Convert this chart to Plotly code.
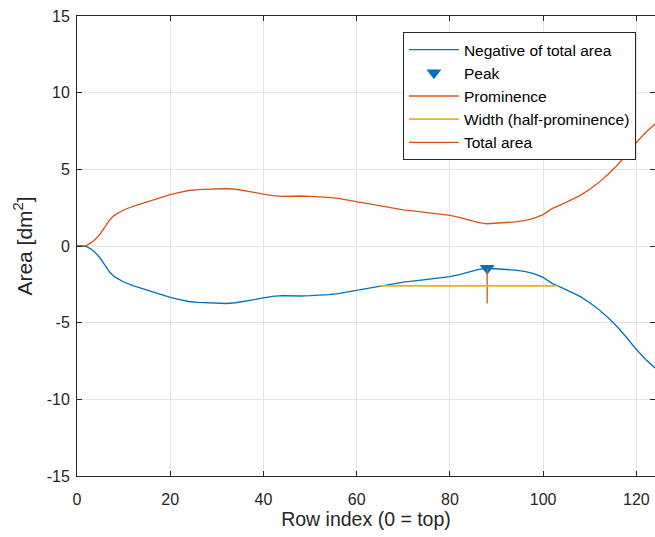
import numpy as np
import plotly.graph_objects as go

# Row index (0 = top) and total area [dm^2]
rows = [0, 1, 2, 3, 4, 5, 6, 7, 8, 9, 10, 12, 14, 16, 18, 20, 22, 24, 26, 28, 30,
        32, 34, 36, 38, 40, 42, 44, 46, 48, 50, 52, 54, 56, 58, 60, 62, 64, 66,
        68, 70, 72, 74, 76, 78, 80, 82, 84, 86, 88, 90, 92, 94, 96, 98, 100, 102,
        104, 106, 108, 110, 112, 114, 116, 118, 120, 122, 124]
total_area = [0.0, 0.0, 0.03, 0.2, 0.45, 0.8, 1.25, 1.7, 2.0, 2.2, 2.35, 2.58,
              2.78, 2.97, 3.17, 3.35, 3.5, 3.62, 3.68, 3.71, 3.73, 3.75, 3.7,
              3.62, 3.5, 3.38, 3.28, 3.23, 3.26, 3.26, 3.24, 3.21, 3.17, 3.1,
              2.99, 2.89, 2.78, 2.66, 2.55, 2.45, 2.36, 2.29, 2.22, 2.14, 2.07,
              2.0, 1.87, 1.7, 1.54, 1.45, 1.48, 1.52, 1.57, 1.65, 1.8, 2.05,
              2.45, 2.72, 3.0, 3.3, 3.7, 4.15, 4.7, 5.3, 6.0, 6.75, 7.4, 7.95]

x_ticks = [0, 20, 40, 60, 80, 100, 120]
y_ticks = [-15, -10, -5, 0, 5, 10, 15]

BLUE = "#0072BD"
ORANGE = "#D95319"
YELLOW = "#EDB120"
DARK = "#262626"
FONT = "Liberation Sans, Arial, sans-serif"

x = np.array(rows, dtype=float)
tot = np.array(total_area, dtype=float)
neg = -tot

# --- findpeaks-like: most prominent local maximum of the negative area ---
best = None
for i in range(1, len(neg) - 1):
    if neg[i] > neg[i - 1] and neg[i] >= neg[i + 1]:
        j = i
        while j > 0 and neg[j - 1] <= neg[i]:
            j -= 1
        lmin = neg[j:i + 1].min()
        k = i
        while k < len(neg) - 1 and neg[k + 1] <= neg[i]:
            k += 1
        rmin = neg[i:k + 1].min()
        ref = max(lmin, rmin)
        prom = neg[i] - ref
        if best is None or prom > best[1]:
            best = (i, prom)
pi, prom = best
px, py = x[pi], neg[pi]
half = py - prom / 2.0


def crossing(idx_from, step):
    i = idx_from
    while 0 <= i + step < len(neg):
        a, b = neg[i], neg[i + step]
        if (a - half) * (b - half) <= 0:
            t = (half - a) / (b - a)
            return x[i] + t * (x[i + step] - x[i])
        i += step
    return x[i]


wl = crossing(pi, -1)
wr = crossing(pi, 1)

fig = go.Figure()
fig.add_trace(go.Scatter(x=x, y=neg, mode="lines", name="Negative of total area",
                         line=dict(color=BLUE, width=1.3)))
fig.add_trace(go.Scatter(x=[px], y=[py], mode="markers", name="Peak",
                         marker=dict(symbol="triangle-down", size=13, color=BLUE,
                                     line=dict(width=0))))
fig.add_trace(go.Scatter(x=[px, px], y=[py, py - prom], mode="lines", name="Prominence",
                         line=dict(color=ORANGE, width=1.3)))
fig.add_trace(go.Scatter(x=[wl, wr], y=[half, half], mode="lines",
                         name="Width (half-prominence)",
                         line=dict(color=YELLOW, width=1.8)))
fig.add_trace(go.Scatter(x=x, y=tot, mode="lines", name="Total area",
                         line=dict(color=ORANGE, width=1.3)))

axis_common = dict(showgrid=True, gridcolor="#e4e4e4", gridwidth=1,
                   showline=True, linecolor=DARK, linewidth=1, mirror="ticks",
                   ticks="inside", ticklen=5, tickcolor=DARK, zeroline=False,
                   ticklabeloverflow="allow",
                   tickfont=dict(family=FONT, size=16, color=DARK))

fig.update_xaxes(range=[0, 124], tickvals=x_ticks, ticktext=[str(v) for v in x_ticks],
                 title=dict(text="Row index (0 = top)", standoff=5,
                            font=dict(family=FONT, size=19.5, color=DARK)),
                 ticklabelstandoff=9, **axis_common)
fig.update_yaxes(range=[-15, 15], tickvals=y_ticks, ticktext=[str(v) for v in y_ticks],
                 title=dict(text="Area [dm<sup>2</sup>]", standoff=8,
                            font=dict(family=FONT, size=21, color=DARK)),
                 ticklabelstandoff=3, **axis_common)

fig.update_layout(
    width=655, height=537,
    margin=dict(l=77, r=0, t=16, b=61),
    paper_bgcolor="white", plot_bgcolor="white",
    font=dict(family=FONT, size=15, color=DARK),
    showlegend=True,
    legend=dict(x=0.967, y=0.965, xanchor="right", yanchor="top",
                bgcolor="white", bordercolor=DARK, borderwidth=1,
                font=dict(family=FONT, size=15.5, color="#000000"),
                tracegroupgap=0, itemwidth=50),
)

# remove the default page margin so the figure sits at the window's corner
fig.write_html("out.html",
               config={"displayModeBar": False},
               post_script="document.body.style.margin='0';"
                           "document.body.style.overflow='hidden';")
